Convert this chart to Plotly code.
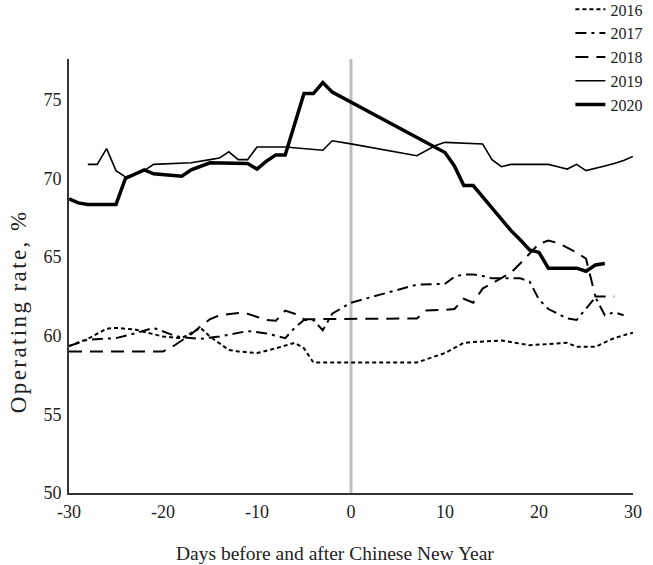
import plotly.graph_objects as go

# ---- data ----
days16 = [-30, -28, -26, -25, -23, -22, -20, -18, -16, -15, -13, -12, -10, -8, -6, -5, -4, 7, 10, 12, 13, 16, 19, 23, 24, 26, 28, 30]
vals16 = [59.35, 59.8, 60.45, 60.5, 60.4, 60.25, 59.95, 59.85, 60.5, 59.95, 59.1, 59.0, 58.9, 59.2, 59.55, 59.2, 58.3, 58.3, 58.9, 59.55, 59.6, 59.7, 59.4, 59.55, 59.3, 59.3, 59.85, 60.2]

days17 = [-30, -28, -25, -23, -21, -19, -18, -16, -14, -12, -11, -9, -7, -6, -5, -4, -3, -2, 0, 3, 6, 7, 10, 11, 12, 13, 14, 15, 18, 19, 20, 21, 22, 23, 24, 26, 27, 28, 29]
vals17 = [59.35, 59.75, 59.85, 60.15, 60.5, 60.05, 59.9, 59.8, 59.95, 60.2, 60.3, 60.15, 59.85, 60.5, 61.0, 61.0, 60.35, 61.4, 62.1, 62.6, 63.1, 63.25, 63.3, 63.75, 63.9, 63.9, 63.8, 63.65, 63.65, 63.45, 62.3, 61.7, 61.4, 61.1, 61.0, 62.45, 61.3, 61.5, 61.3]

days18 = [-30, -20, -19, -18, -17, -16, -15, -14, -12, -11, -10, -9, -8, -7, -6, -5, 7, 8, 10, 11, 12, 13, 14, 15, 17, 18, 19, 20, 21, 22, 23, 24, 25, 26, 28]
vals18 = [59.0, 59.0, 59.3, 59.7, 60.1, 60.6, 61.05, 61.3, 61.45, 61.4, 61.2, 61.0, 60.95, 61.6, 61.4, 61.05, 61.1, 61.6, 61.65, 61.7, 62.35, 62.1, 63.0, 63.35, 64.0, 64.6, 65.2, 65.85, 66.05, 65.9, 65.6, 65.3, 64.9, 62.5, 62.5]

days19 = [-28, -27, -26, -25, -24, -22, -21, -17, -15, -14, -13, -12, -11, -10, -7, -3, -2, 0, 7, 8, 9, 10, 14, 15, 16, 17, 21, 22, 23, 24, 25, 27, 28, 29, 30]
vals19 = [70.9, 70.9, 71.9, 70.5, 70.1, 70.5, 70.9, 71.0, 71.2, 71.3, 71.7, 71.2, 71.2, 72.0, 72.0, 71.8, 72.4, 72.2, 71.45, 71.8, 72.1, 72.3, 72.2, 71.2, 70.75, 70.9, 70.9, 70.75, 70.6, 70.9, 70.5, 70.8, 70.95, 71.15, 71.4]

days20 = [-30, -29, -28, -25, -24, -23, -22, -21, -18, -17, -15, -11, -10, -9, -8, -7, -5, -4, -3, -2, 9, 10, 11, 12, 13, 15, 17, 18, 19, 20, 21, 24, 25, 26, 27]
vals20 = [68.7, 68.45, 68.35, 68.35, 70.0, 70.3, 70.55, 70.3, 70.15, 70.55, 71.0, 70.95, 70.6, 71.1, 71.5, 71.5, 75.4, 75.4, 76.1, 75.5, 72.0, 71.65, 70.8, 69.55, 69.55, 68.1, 66.7, 66.1, 65.45, 65.3, 64.3, 64.3, 64.1, 64.5, 64.6]

x_ticks = [-30, -20, -10, 0, 10, 20, 30]
x_labels = ["-30", "-20", "-10", "0", "10", "20", "30"]
y_ticks = [50, 55, 60, 65, 70, 75]
y_labels = ["50", "55", "60", "65", "70", "75"]

x_title = "Days before and after Chinese New Year"
y_title = "Operating rate, %"

FONT = "Liberation Serif, Times New Roman, serif"

series = [
    ("2016", days16, vals16, dict(color="black", width=2, dash="4px,3px")),
    ("2017", days17, vals17, dict(color="black", width=2, dash="11px,5px,3px,5px")),
    ("2018", days18, vals18, dict(color="black", width=2, dash="13px,8px")),
    ("2019", days19, vals19, dict(color="black", width=1.6)),
    ("2020", days20, vals20, dict(color="black", width=3.5)),
]

fig = go.Figure()
for name, d, v, ln in series:
    fig.add_trace(go.Scatter(x=d, y=v, mode="lines", name=name, line=ln))

# vertical reference line at Chinese New Year
fig.add_shape(type="line", xref="x", yref="paper", x0=0, x1=0, y0=0, y1=1,
              line=dict(color="#bdbdbd", width=3), layer="below")

# axis titles (placed as annotations, as in the reference they are off-centre)
fig.add_annotation(text=x_title, xref="paper", yref="paper", x=0.4725, y=-0.139,
                   xanchor="center", yanchor="middle", showarrow=False,
                   font=dict(family=FONT, size=19.5, color="#222"))
fig.add_annotation(text='<span style="letter-spacing:2.4px">' + y_title + '</span>',
                   xref="paper", yref="paper", x=-0.0904, y=0.419, textangle=-90,
                   xanchor="center", yanchor="middle", showarrow=False,
                   font=dict(family=FONT, size=23, color="#222"))

fig.update_layout(
    width=653, height=565,
    margin=dict(l=69, r=20, t=59, b=72, autoexpand=False),
    paper_bgcolor="white", plot_bgcolor="white",
    font=dict(family=FONT, size=18, color="#222"),
    showlegend=True,
    legend=dict(x=0.889, y=1.1535, xanchor="left", yanchor="top",
                font=dict(family=FONT, size=16, color="#222"),
                bgcolor="rgba(0,0,0,0)", tracegroupgap=0),
    xaxis=dict(range=[-30, 30], tickvals=x_ticks, ticktext=x_labels,
               showgrid=False, zeroline=False, automargin=False,
               showline=True, linecolor="#333", linewidth=2, ticks="",
               ticklabelstandoff=1, tickfont=dict(family=FONT, size=18, color="#222")),
    yaxis=dict(range=[50, 77.6], tickvals=y_ticks, ticktext=y_labels,
               showgrid=False, zeroline=False, automargin=False,
               showline=True, linecolor="#333", linewidth=2, ticks="",
               ticklabelstandoff=2, tickfont=dict(family=FONT, size=18, color="#222")),
)

fig.write_html("out.html", config={"displayModeBar": False},
               post_script="document.body.style.margin='0px';")
